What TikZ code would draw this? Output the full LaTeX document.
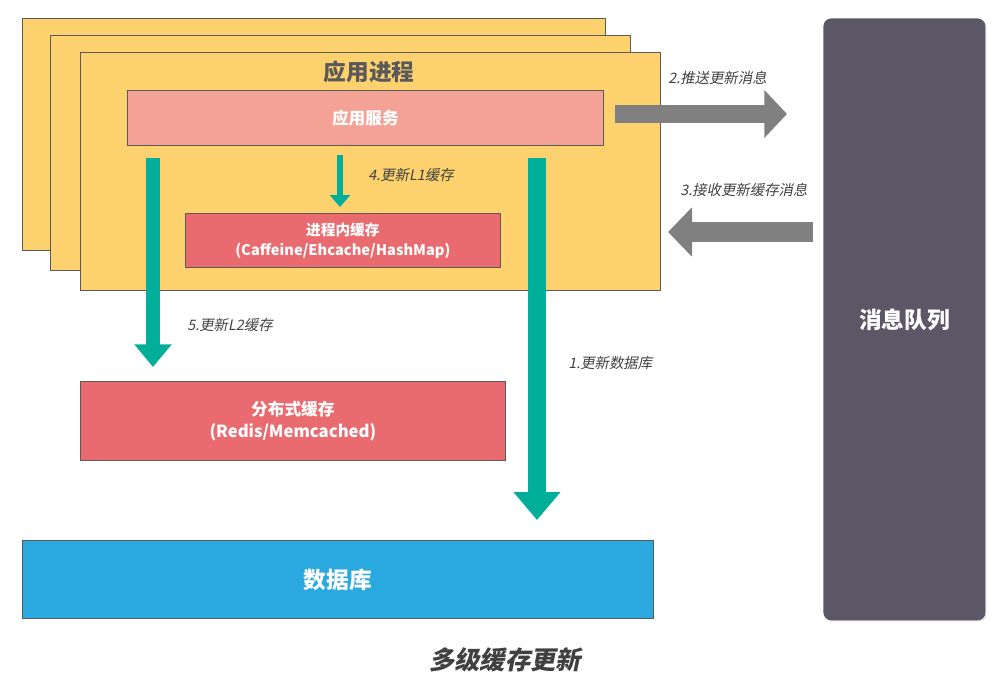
\documentclass[tikz,border=0pt]{standalone}
\usepackage{fontspec}
\setmainfont{Noto Sans CJK SC}
\newfontfamily\cjk{Noto Sans CJK SC}
\newfontfamily\cjkit[FakeSlant=0.2]{Noto Sans CJK SC}
\usetikzlibrary{arrows.meta,shadows}
\definecolor{procyellow}{HTML}{FDD26E}
\definecolor{svcpink}{HTML}{F4A196}
\definecolor{cachered}{HTML}{EA6B6F}
\definecolor{dbblue}{HTML}{2AA8E0}
\definecolor{mqgray}{HTML}{5B5767}
\definecolor{tealc}{HTML}{00AE9A}
\definecolor{arrgray}{HTML}{808080}
\definecolor{edgec}{HTML}{5A5A5A}
\definecolor{labelc}{HTML}{404040}
\definecolor{titlec}{HTML}{595959}
\begin{document}
\begin{tikzpicture}[x=0.75pt,y=-0.75pt,
  box/.style={draw=edgec,line width=0.6pt,anchor=north west,inner sep=0pt,
    drop shadow={shadow xshift=0.8pt,shadow yshift=-0.8pt,opacity=0.25}},
  proc/.style={box,fill=procyellow},
  whitetxt/.style={text=white,font=\cjk\bfseries,align=center},
  steplabel/.style={font=\cjkit\fontsize{10.8}{13}\selectfont,text=labelc,inner sep=0pt},
  tealarrow/.style={draw=tealc,line cap=butt},
  grayarrow/.style={draw=arrgray,line cap=butt}]
\useasboundingbox (0,0) rectangle (1003,685);
% stacked process boxes
\node[proc,minimum width={583*0.75pt},minimum height={232*0.75pt}] (back1) at (22,18) {};
\node[proc,minimum width={580*0.75pt},minimum height={235*0.75pt}] (back2) at (50,35) {};
\node[proc,minimum width={580*0.75pt},minimum height={238*0.75pt}] (proc) at (80,52) {};
\node[font=\cjk\bfseries\fontsize{17}{20}\selectfont,text=titlec] (title) at (369,72) {应用进程};
% service
\node[box,fill=svcpink,minimum width={476*0.75pt},minimum height={55*0.75pt}] (svc) at (127,90) {};
\node[whitetxt,font=\cjk\bfseries\fontsize{12.5}{15}\selectfont] (svct) at (svc.center) {应用服务};
% L1 cache
\node[box,fill=cachered,minimum width={315*0.75pt},minimum height={54*0.75pt}] (l1) at (185,213) {};
\node[whitetxt,font=\cjk\bfseries\fontsize{11}{15}\selectfont] (l1t) at (l1.center) {进程内缓存\\(Caffeine/Ehcache/HashMap)};
% distributed cache
\node[box,fill=cachered,minimum width={425*0.75pt},minimum height={79*0.75pt}] (dist) at (80,381) {};
\node[whitetxt,font=\cjk\bfseries\fontsize{12.5}{17}\selectfont] (distt) at (dist.center) {分布式缓存\\(Redis/Memcached)};
% database
\node[box,fill=dbblue,minimum width={631*0.75pt},minimum height={78*0.75pt}] (db) at (22,540) {};
\node[whitetxt,font=\cjk\bfseries\fontsize{17}{20}\selectfont] (dbt) at (db.center) {数据库};
% message queue
\node[box,fill=mqgray,draw=none,rounded corners=6pt,minimum width={162*0.75pt},minimum height={602*0.75pt}] (mq) at (823,18) {};
\node[whitetxt,font=\cjk\bfseries\fontsize{17}{20}\selectfont] (mqt) at (mq.center) {消息队列};
% coordinates for arrows
\coordinate (a4s) at (340,155);
\coordinate (a4e) at (340,207);
\coordinate (a5s) at (153,158);
\coordinate (a5e) at (153,367);
\coordinate (a1s) at (537,158);
\coordinate (a1e) at (537,520);
\coordinate (a2s) at (615,114);
\coordinate (a2e) at (787,114);
\coordinate (a3s) at (813,232);
\coordinate (a3e) at (668,232);
% teal arrows
\draw[tealarrow,line width=4.5pt,-{Triangle[width=15pt,length=9pt]}] (a4s) -- (a4e);
\draw[tealarrow,line width=10.5pt,-{Triangle[width=27pt,length=17pt]}] (a5s) -- (a5e);
\draw[tealarrow,line width=13pt,-{Triangle[width=34pt,length=21pt]}] (a1s) -- (a1e);
% gray arrows
\draw[grayarrow,line width=13.5pt,-{Triangle[width=35pt,length=17pt]}] (a2s) -- (a2e);
\draw[grayarrow,line width=15pt,-{Triangle[width=36pt,length=18pt]}] (a3s) -- (a3e);
% labels
\node[steplabel,anchor=west] (l4) at (368,175) {4.更新L1缓存};
\node[steplabel,anchor=west] (l5) at (187,325) {5.更新L2缓存};
\node[steplabel,anchor=west] (l1l) at (568,363) {1.更新数据库};
\node[steplabel,anchor=west] (l2) at (668,78) {2.推送更新消息};
\node[steplabel,anchor=west] (l3) at (680,190) {3.接收更新缓存消息};
% caption
\node[font=\cjkit\bfseries\fontsize{19}{22}\selectfont,text=labelc] (cap) at (505,660) {多级缓存更新};
\end{tikzpicture}
\end{document}
